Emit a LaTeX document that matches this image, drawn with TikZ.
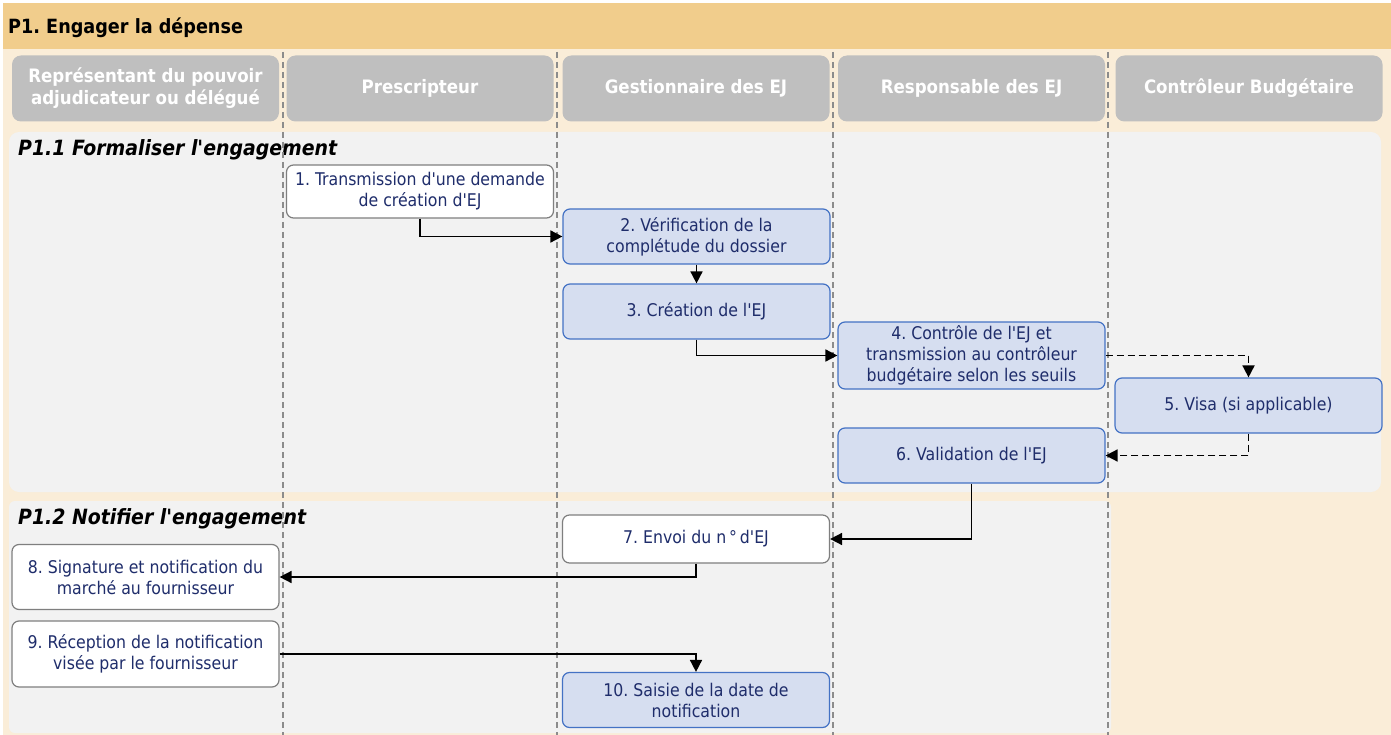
\documentclass[tikz,border=0pt]{standalone}
\usepackage{fontspec}
\setmainfont{DejaVu Sans Condensed}[Ligatures=TeXOff]
\usetikzlibrary{arrows.meta}
\frenchspacing

\definecolor{titlebar}{HTML}{F1CD8C}
\definecolor{cream}{HTML}{FAEDD8}
\definecolor{panel}{HTML}{F2F2F2}
\definecolor{lanegray}{HTML}{BFBFBF}
\definecolor{stepfill}{HTML}{D6DEF0}
\definecolor{stepline}{HTML}{4472C4}
\definecolor{whiteline}{HTML}{7F7F7F}
\definecolor{navy}{HTML}{1F2D6B}
\definecolor{sepgray}{HTML}{8C8C8C}

\tikzset{
  lanehead/.style={fill=lanegray, rounded corners=9pt, minimum width=267pt,
    minimum height=66pt, inner sep=0pt, align=center, text=white,
    font=\fontsize{18.5}{22}\selectfont\bfseries},
  stepbox/.style={rounded corners=7pt, line width=1.2pt, minimum width=267pt,
    inner sep=0pt, align=center, text=navy, font=\fontsize{17.5}{21}\selectfont},
  bluestep/.style={stepbox, fill=stepfill, draw=stepline},
  whitestep/.style={stepbox, fill=white, draw=whiteline},
  arr/.style={line width=1.7pt, -{Triangle[length=12pt,width=12pt]}},
  darr/.style={arr, dash pattern=on 7pt off 4pt},
  lanesep/.style={sepgray, line width=1.1pt, dash pattern=on 6pt off 4pt},
  sectitle/.style={anchor=base west, inner sep=0pt,
    font=\fontsize{21}{25}\selectfont\bfseries\itshape},
}

\begin{document}
\begin{tikzpicture}[x=1pt,y=-1pt]
  \useasboundingbox (0,0) rectangle (1391,735);
  \fill[white] (0,0) rectangle (1391,735);

  % page frame: cream body and title band
  \fill[cream] (3,3) rectangle (1391,735);
  \fill[titlebar] (3,3) rectangle (1391,49);
  \node[anchor=base west, inner sep=0pt, font=\fontsize{19.6}{23}\selectfont\bfseries]
    (title) at (8,34) {P1. Engager la dépense};

  % lane headers
  \node[lanehead] (l1) at (145.5,88.5) {Représentant du pouvoir\\adjudicateur ou délégué};
  \node[lanehead] (l2) at (420,88.5) {Prescripteur};
  \node[lanehead] (l3) at (696,88.5) {Gestionnaire des EJ};
  \node[lanehead] (l4) at (971.5,88.5) {Responsable des EJ};
  \node[lanehead] (l5) at (1249,88.5) {Contrôleur Budgétaire};

  % sub-process panels
  \fill[panel, rounded corners=10pt] (9,132) rectangle (1381,492);
  \fill[panel, rounded corners=6pt] (9,501) rectangle (1111,733);
  \node[sectitle] (s1) at (18,156) {P1.1 Formaliser l'engagement};
  \node[sectitle] (s2) at (18,524) {P1.2 Notifier l'engagement};

  % lane separators
  \foreach \x in {283,557,833,1108}
    \draw[lanesep] (\x,52) -- (\x,735);

  % steps
  \node[whitestep, minimum height=53pt] (b1) at (420,191.5)
    {1. Transmission d'une demande\\de création d'EJ};
  \node[bluestep, minimum height=55pt] (b2) at (696.5,236.5)
    {2. Vérification de la\\complétude du dossier};
  \node[bluestep, minimum height=55pt] (b3) at (696.5,311.5)
    {3. Création de l'EJ};
  \node[bluestep, minimum height=67pt] (b4) at (971.5,355.5)
    {4. Contrôle de l'EJ et\\transmission au contrôleur\\budgétaire selon les seuils};
  \node[bluestep, minimum height=55pt] (b5) at (1248.5,405.5)
    {5. Visa (si applicable)};
  \node[bluestep, minimum height=55pt] (b6) at (971.5,455.5)
    {6. Validation de l'EJ};
  \node[whitestep, minimum height=48pt] (b7) at (696,539)
    {7. Envoi du n\,°\,d'EJ};
  \node[whitestep, minimum height=65pt] (b8) at (145.5,577)
    {8. Signature et notification du\\marché au fournisseur};
  \node[whitestep, minimum height=66pt] (b9) at (145.5,654)
    {9. Réception de la notification\\visée par le fournisseur};
  \node[bluestep, minimum height=55pt] (b10) at (696,700)
    {10. Saisie de la date de\\notification};

  % flow
  \draw[arr] (b1.south) |- (b2.west);
  \draw[arr] (b2.south) -- (b3.north);
  \draw[arr] (b3.south) |- (b4.west);
  \draw[darr] (b4.east) -| (b5.north);
  \draw[darr] (b5.south) |- (b6.east);
  \draw[arr] (b6.south) |- (b7.east);
  \draw[arr] (b7.south) |- (b8.east);
  \draw[arr] (b9.east) -| (b10.north);
\end{tikzpicture}
\end{document}
